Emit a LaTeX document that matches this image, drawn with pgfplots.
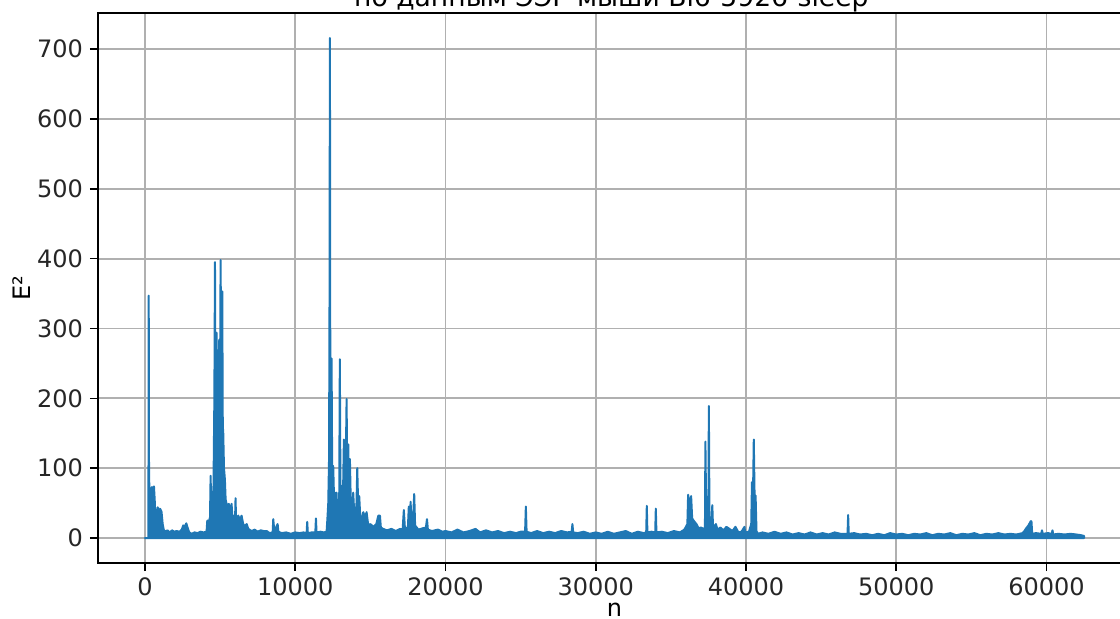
\documentclass[border=0pt]{standalone}
\usepackage{pgfplots}
\pgfplotsset{compat=1.18}
\usepackage{pgfplotstable}
\usepackage{fontspec}
\setmainfont{DejaVu Sans}
\definecolor{tabblue}{HTML}{1F77B4}
\definecolor{gridgray}{HTML}{B0B0B0}
\pgfplotstableread{
n E
0 0
230 0
250 347
270 100
290 74
400 60
460 73
520 55
600 74
660 50
700 21
760 30
850 44
930 30
1000 42
1100 38
1180 20
1250 12
1350 9
1500 11
1650 8
1800 11
1950 9
2100 10
2300 9
2450 12
2550 18
2650 16
2750 21
2850 14
2950 8
3100 6
3300 8
3500 7
3700 9
3900 8
4100 9
4150 25
4280 25
4330 30
4370 89
4410 40
4480 56
4560 70
4620 200
4660 395
4700 160
4770 294
4820 150
4880 127
4910 200
4945 284
4990 180
5035 398
5080 220
5145 353
5180 160
5210 151
5260 100
5320 84
5370 55
5430 49
5500 40
5580 49
5650 38
5765 49
5820 30
5880 32
5960 25
6000 30
6030 57
6060 28
6210 32
6330 26
6430 32
6540 20
6650 17
6770 20
6880 13
7100 10
7300 12
7500 9
7700 11
7900 10
8100 10
8300 7
8500 8
8540 27
8600 12
8700 14
8830 20
8880 9
9100 7
9400 8
9700 6
10000 8
10300 7
10540 8
10760 7
10800 23
10840 7
11100 8
11340 8
11380 28
11420 8
11700 9
11900 8
12090 9
12150 30
12200 50
12250 110
12280 300
12310 716
12340 150
12380 90
12420 257
12460 100
12530 103
12580 60
12640 65
12700 40
12750 65
12800 35
12860 27
12930 60
12970 256
13010 70
13050 50
13130 75
13180 60
13240 141
13290 80
13340 60
13420 199
13460 90
13530 134
13580 70
13640 113
13700 50
13750 51
13800 40
13860 65
13930 35
14020 32
14080 50
14130 100
14180 55
14260 60
14330 30
14420 27
14530 37
14650 30
14750 37
14860 18
15000 20
15200 16
15400 20
15530 32
15640 32
15700 15
15860 13
16100 11
16400 13
16700 10
16970 13
17150 12
17230 40
17300 14
17500 15
17560 45
17620 18
17680 52
17740 20
17850 30
17920 63
17980 18
18200 12
18500 14
18700 15
18770 27
18830 12
19100 10
19500 12
19800 9
20000 10
20400 8
20800 12
21200 8
21600 10
22000 13
22300 8
22700 11
23100 8
23500 10
23900 7
24300 9
24700 7
25000 9
25300 9
25350 45
25400 9
25700 7
26100 10
26500 7
26900 9
27300 7
27700 10
28100 8
28400 9
28450 20
28500 8
28800 7
29200 9
29600 6
30000 8
30400 6
30800 9
31200 6
31600 8
32000 10
32400 6
32800 9
33200 7
33360 8
33400 46
33440 8
33700 9
33960 8
34000 42
34040 8
34400 9
34800 7
35200 10
35600 8
35900 12
36100 20
36150 62
36250 45
36350 60
36420 28
36550 24
36700 20
36850 14
37000 15
37200 13
37270 15
37300 138
37350 40
37400 30
37500 40
37530 189
37570 30
37650 25
37720 30
37760 47
37800 20
37900 15
38000 20
38100 12
38300 15
38500 11
38700 16
38900 13
39100 10
39300 16
39500 8
39700 9
39900 16
39950 8
40200 9
40350 20
40400 80
40460 50
40520 141
40580 50
40640 61
40700 10
40800 6
41100 8
41500 6
41900 9
42300 6
42700 8
43100 5
43500 7
43900 5
44300 8
44700 5
45100 7
45500 5
45900 8
46300 6
46760 6
46800 33
46840 6
47200 7
47600 5
48000 6
48400 4
48800 6
49200 4
49600 7
50000 5
50400 6
50800 4
51200 6
51600 5
52000 7
52400 4
52800 6
53200 5
53600 7
54000 4
54400 6
54800 5
55200 7
55600 4
56000 6
56400 5
56800 7
57200 5
57600 6
58000 5
58400 7
58500 9
58650 14
58800 18
58950 24
59000 24
59050 6
59300 7
59650 6
59700 11
59750 6
60100 7
60350 6
60400 11
60450 5
60800 6
61200 5
61600 6
62000 5
62300 4
62500 3
}\datatable
\begin{document}
\begin{tikzpicture}
\begin{axis}[
  at={(49pt,27.5pt)}, anchor=south west,
  scale only axis,
  width=516.5pt, height=275pt,
  xmin=-3125, xmax=65625,
  ymin=-35.8, ymax=751.8,
  xtick={0,10000,...,60000},
  ytick={0,100,...,700},
  scaled x ticks=false,
  /pgf/number format/set thousands separator={},
  /pgf/number format/assume math mode=true,
  tick label style={font=\fontsize{12}{14}\selectfont, text=black!85},
  tick align=outside,
  tick pos=left,
  major tick length=4pt,
  every tick/.style={black, line width=0.8pt},
  axis line style={black, line width=0.8pt},
  grid=major,
  major grid style={gridgray, line width=0.9pt},
  xlabel={n},
  ylabel={E²},
  label style={font=\fontsize{12}{14}\selectfont},
  xlabel style={at={(axis description cs:0.5,-0.0964)}, anchor=base},
  ylabel style={at={(axis description cs:-0.074,0.5)}, anchor=center, rotate=0},
  title={по данным ЭЭГ мыши Bl6-5926-sleep},
  title style={font=\fontsize{13.3}{16}\selectfont, at={(axis description cs:0.497,1)}, anchor=base, yshift=-3pt},
]
\addplot[draw=tabblue, fill=tabblue, line width=1pt, line join=round] table[x=n, y=E] {\datatable} \closedcycle;
\end{axis}
\pgfresetboundingbox
\path[use as bounding box] (0,0) rectangle (560pt,309pt);
\end{tikzpicture}
\end{document}
